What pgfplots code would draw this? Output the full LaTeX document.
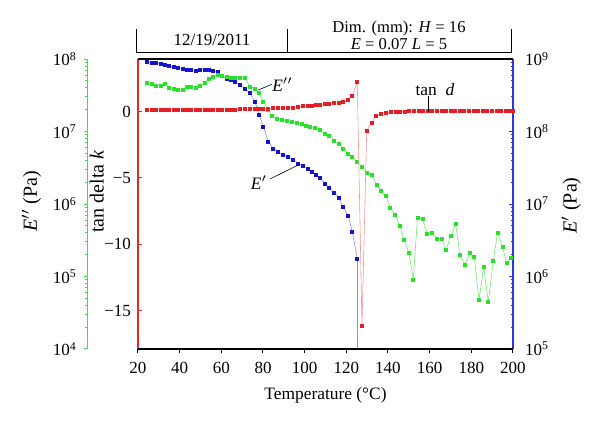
\documentclass[border=0pt]{standalone}
\usepackage{fontspec}
\setmainfont{Liberation Serif}
\usepackage{pgfplots}
\pgfplotsset{compat=1.18}
\definecolor{rmark}{RGB}{228,30,36}
\definecolor{rline}{RGB}{244,150,150}
\definecolor{bmark}{RGB}{20,20,200}
\definecolor{bline}{RGB}{140,140,235}
\definecolor{gmark}{RGB}{40,225,40}
\definecolor{gline}{RGB}{120,230,120}
\definecolor{raxis}{RGB}{230,40,40}
\definecolor{baxis}{RGB}{50,50,225}
\definecolor{gaxis}{RGB}{60,225,60}
\pgfplotsset{
 base/.style={scale only axis, width=187.5pt, height=145pt, xmin=20, xmax=200,
   tick label style={font=\fontsize{8.5}{10}\selectfont},
   label style={font=\fontsize{8.7}{10.4}\selectfont},
   major tick length=2pt, minor tick length=1.2pt,
   /pgf/number format/assume math mode=true},
 pts/.style={mark=square*, mark size=0.75pt, line width=0.3pt},
}
\begin{document}
\begin{tikzpicture}
\useasboundingbox (-69pt,-37.5pt) rectangle (231pt,174.5pt);
% E' (blue, right axis)
\begin{axis}[base, ymode=log, ymin=1e5, ymax=1e9,
  axis x line=none, axis y line*=right,
  y axis line style={baxis, line width=0.8pt},
  tick align=inside, ytick style={baxis, line width=0.5pt},
  yticklabel style={xshift=2.5pt},
  ytick={1e5,1e6,1e7,1e8,1e9},
  yticklabels={10\textsuperscript{5},10\textsuperscript{6},10\textsuperscript{7},10\textsuperscript{8},10\textsuperscript{9}},
  minor ytick={2e5,3e5,4e5,5e5,6e5,7e5,8e5,9e5,2e6,3e6,4e6,5e6,6e6,7e6,8e6,9e6,2e7,3e7,4e7,5e7,6e7,7e7,8e7,9e7,2e8,3e8,4e8,5e8,6e8,7e8,8e8,9e8},
  ylabel={{\itshape E}$'$ (Pa)},
  every axis y label/.style={at={(axis description cs:1.155,0.495)}, rotate=90, anchor=center}]
\addplot[bline, pts, mark options={bmark, draw=bmark, fill=bmark}] coordinates {
(24.46,9.18e8)(26.58,9.00e8)(28.64,8.81e8)(30.75,8.53e8)(32.86,8.26e8)(34.98,8.00e8)(37.09,7.76e8)(39.20,7.59e8)(41.31,7.44e8)(43.42,7.21e8)(45.54,7.05e8)(47.65,6.98e8)(49.76,7.11e8)(51.87,7.21e8)(53.98,7.16e8)(56.10,6.94e8)(58.21,6.62e8)(60.32,5.89e8)(62.43,5.42e8)(64.54,5.13e8)(66.56,4.86e8)(68.96,4.38e8)(71.36,3.94e8)(73.76,3.37e8)(76.16,2.58e8)(78.22,1.69e8)(80.14,1.16e8)(82.54,7.23e7)(84.94,5.86e7)(87.34,5.26e7)(89.74,4.74e7)(92.14,4.49e7)(94.54,4.05e7)(96.94,3.64e7)(99.34,3.37e7)(101.74,3.10e7)(103.52,2.79e7)(105.44,2.51e7)(107.36,2.29e7)(109.62,1.93e7)(111.82,1.65e7)(114.22,1.43e7)(116.48,1.22e7)(118.54,9.18e6)(120.94,6.83e6)(122.86,4.15e6)(125.26,1.78e6)};
\addplot[bline, line width=0.3pt] coordinates {(125.26,1.78e6)(125.26,1e4)};
\end{axis}
% E'' (green, outer left axis)
\begin{axis}[base, ymode=log, ymin=1e4, ymax=1e8,
  axis x line=none, axis y line*=left,
  y axis line style={gaxis, line width=0.8pt, xshift=-25.2pt},
  tick align=outside, ytick style={gaxis, line width=0.5pt, xshift=-25.2pt},
  yticklabel style={xshift=-25pt},
  ytick={1e4,1e5,1e6,1e7,1e8},
  yticklabels={10\textsuperscript{4},10\textsuperscript{5},10\textsuperscript{6},10\textsuperscript{7},10\textsuperscript{8}},
  minor ytick={2e4,3e4,4e4,5e4,6e4,7e4,8e4,9e4,2e5,3e5,4e5,5e5,6e5,7e5,8e5,9e5,2e6,3e6,4e6,5e6,6e6,7e6,8e6,9e6,2e7,3e7,4e7,5e7,6e7,7e7,8e7,9e7},
  ylabel={{\itshape E}$''$ (Pa)},
  every axis y label/.style={at={(axis description cs:-0.284,0.51)}, rotate=90, anchor=center}]
\addplot[gline, pts, mark options={gmark, draw=gmark, fill=gmark}] coordinates {
(24.46,4.77e7)(26.58,4.52e7)(28.64,4.31e7)(30.75,4.28e7)(32.86,4.52e7)(34.98,4.02e7)(37.09,3.94e7)(39.20,3.82e7)(41.31,3.77e7)(43.42,4.15e7)(45.54,4.15e7)(47.65,4.02e7)(49.76,4.25e7)(51.87,4.67e7)(53.98,5.30e7)(56.10,5.65e7)(58.21,6.15e7)(60.32,5.89e7)(62.43,5.65e7)(64.54,5.52e7)(66.56,5.52e7)(68.96,5.52e7)(71.36,5.52e7)(73.76,4.15e7)(76.16,3.94e7)(78.22,3.37e7)(80.14,2.58e7)(82.54,1.98e7)(84.32,1.64e7)(86.58,1.52e7)(88.98,1.44e7)(91.38,1.40e7)(93.78,1.36e7)(96.18,1.30e7)(98.58,1.26e7)(100.64,1.20e7)(102.56,1.16e7)(104.96,1.11e7)(107.36,1.05e7)(109.76,9.25e6)(111.82,8.67e6)(114.22,7.46e6)(116.48,6.87e6)(118.54,5.86e6)(120.94,5.00e6)(122.86,4.41e6)(125.26,3.83e6)(127.52,3.24e6)(129.78,2.70e6)(132.18,2.51e6)(134.48,1.86e6)(136.50,1.53e6)(139.04,1.28e6)(141.10,8.81e5)(143.36,7.05e5)(145.57,5.08e5)(147.82,3.18e5)(150.08,2.11e5)(152.14,9.14e4)(154.16,6.52e5)(156.66,6.17e5)(158.82,3.83e5)(161.12,4.07e5)(163.42,3.34e5)(165.78,3.34e5)(167.84,2.32e5)(170.14,3.62e5)(172.50,5.26e5)(174.56,1.97e5)(176.96,1.47e5)(179.36,2.09e5)(181.42,1.86e5)(183.68,4.74e4)(185.94,1.34e5)(188.14,4.48e4)(190.54,1.65e5)(192.61,4.05e5)(194.96,2.58e5)(196.98,1.53e5)(199.04,1.84e5)};
\end{axis}
% tan delta (red, inner left axis)
\begin{axis}[base, ymin=-17.88, ymax=3.95,
  axis x line=none, axis y line*=left,
  y axis line style={raxis, line width=0.8pt},
  tick align=inside, ytick style={raxis, line width=0.5pt},
  ytick={-15,-10,-5,0}, yticklabels={−15,−10,−5,0},
  ylabel={tan delta \textit{k}},
  every axis y label/.style={at={(axis description cs:-0.110,0.543)}, rotate=90, anchor=center}]
\addplot[rline, pts, mark options={rmark, draw=rmark, fill=rmark}] coordinates {
(24.46,0.10)(26.58,0.10)(28.64,0.10)(30.75,0.10)(32.86,0.10)(34.98,0.10)(37.09,0.10)(39.20,0.10)(41.31,0.10)(43.42,0.10)(45.54,0.10)(47.65,0.10)(49.76,0.11)(51.87,0.11)(53.98,0.12)(56.10,0.12)(58.21,0.13)(60.32,0.13)(62.43,0.14)(64.54,0.15)(66.56,0.16)(68.96,0.17)(71.36,0.18)(73.76,0.19)(76.16,0.20)(78.22,0.21)(80.14,0.22)(82.54,0.23)(84.94,0.25)(87.34,0.26)(89.74,0.27)(92.14,0.28)(94.54,0.30)(96.94,0.35)(99.34,0.40)(101.74,0.43)(103.52,0.46)(105.44,0.50)(107.36,0.53)(109.62,0.58)(111.82,0.60)(114.22,0.63)(116.48,0.66)(118.54,0.70)(120.94,0.85)(122.86,1.21)(125.26,2.20)(127.52,-16.13)(129.78,-1.43)(132.18,-0.85)(134.24,-0.35)(136.64,-0.17)(138.90,-0.10)(141.30,-0.05)(143.6,-0.02)(145.8,0.00)(148.0,0.01)(150.2,0.02)(152.4,0.02)(154.6,0.02)(156.8,0.02)(159.0,0.02)(161.2,0.02)(163.4,0.02)(165.6,0.02)(167.8,0.02)(170.0,0.02)(172.2,0.02)(174.4,0.02)(176.6,0.02)(178.8,0.02)(181.0,0.02)(183.2,0.02)(185.4,0.02)(187.6,0.02)(189.8,0.02)(192.0,0.02)(194.2,0.02)(196.4,0.02)(198.6,0.02)(200.0,0.02)};
\end{axis}
% x axis
\begin{axis}[base, ymin=0, ymax=1,
  axis y line=none, axis x line*=bottom,
  x axis line style={black, line width=0.6pt},
  tick align=outside, xtick style={black, line width=0.5pt},
  xticklabel style={yshift=-1pt},
  xtick={20,40,...,200},
  xlabel={Temperature (°C)}]
\end{axis}
\draw[line width=0.6pt] (0,145pt) -- (187.5pt,145pt);
% header
\draw[line width=0.5pt] (-0.5pt,160pt) -- (-0.5pt,148.15pt) -- (186.5pt,148.15pt) -- (186.5pt,160pt);
\draw[line width=0.5pt] (74.5pt,160pt) -- (74.5pt,148.15pt);
\node[anchor=base, font=\fontsize{8.5}{10}\selectfont, inner sep=0pt] at (37pt,151.5pt) {12/19/2011};
\node[anchor=base, font=\fontsize{8.3}{10}\selectfont, inner sep=0pt] at (130.5pt,158pt) {Dim. (mm): \textit{H} = 16};
\node[anchor=base, font=\fontsize{8.3}{10}\selectfont, inner sep=0pt] at (130.5pt,149.6pt) {\textit{E} = 0.07 \textit{L} = 5};
% annotations
\node[font=\fontsize{8.7}{10.4}\selectfont, inner sep=0pt] at (72.25pt,132.25pt) {{\itshape E}$''$};
\draw[line width=0.3pt] (60.15pt,129.5pt) -- (66.85pt,132.35pt);
\node[font=\fontsize{8.7}{10.4}\selectfont, inner sep=0pt] at (60.5pt,83.25pt) {{\itshape E}$'$};
\draw[line width=0.3pt] (66pt,85pt) -- (80.15pt,92pt);
\node[font=\fontsize{8.7}{10.4}\selectfont, inner sep=0pt] at (148.5pt,129.5pt) {tan\ \ \textit{d}};
\draw[line width=0.3pt] (145.15pt,126.3pt) -- (145.15pt,118.65pt);
\end{tikzpicture}
\end{document}
